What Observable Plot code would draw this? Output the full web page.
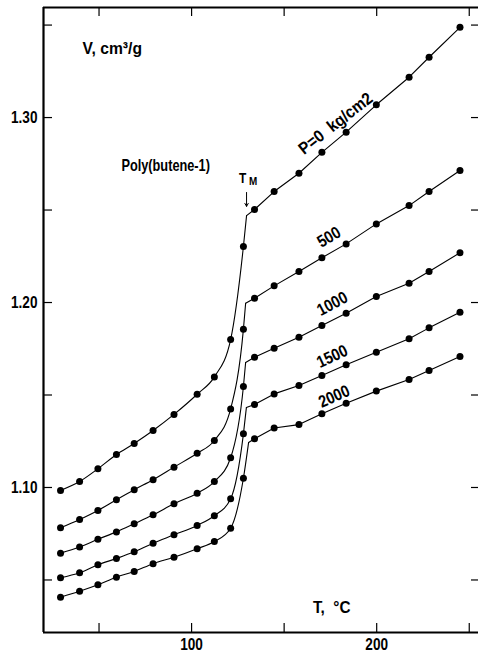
<!DOCTYPE html>
<html><head><meta charset="utf-8">
<script src="https://cdn.jsdelivr.net/npm/d3@7"></script>
<script src="https://cdn.jsdelivr.net/npm/@observablehq/plot@0.6"></script>
<style>
body{margin:0;background:#fff;}
svg{font-family:"Liberation Sans",Arial,sans-serif;font-weight:bold;}
</style></head><body>
<div id="chart"></div>
<script>
// Pressures (kg/cm2)
const pressures = [0, 500, 1000, 1500, 2000];
// Temperatures (°C) of measured points, solid (below Tm) and melt (above Tm)
const tSolid = [29.2, 39.5, 49.4, 59.4, 69, 79.2, 90.5, 103, 112.3, 121.1, 128];
const tLiquid = [134, 144.6, 158, 170.4, 183.5, 199.8, 217.5, 228.3, 245];
// Specific volume (cm3/g)
const vSolid0    = [1.0984, 1.1032, 1.1101, 1.1178, 1.1238, 1.1308, 1.1395, 1.1504, 1.1598, 1.1800, 1.2303];
const vLiquid0   = [1.2503, 1.2600, 1.2699, 1.2812, 1.2921, 1.3069, 1.3218, 1.3326, 1.3488];
const vSolid500  = [1.0782, 1.0827, 1.0876, 1.0934, 1.0988, 1.1042, 1.1110, 1.1185, 1.1254, 1.1425, 1.1856];
const vLiquid500 = [1.2023, 1.2090, 1.2168, 1.2242, 1.2317, 1.2425, 1.2524, 1.2600, 1.2714];
const vSolid1000  = [1.0645, 1.0678, 1.0720, 1.0760, 1.0804, 1.0852, 1.0912, 1.0969, 1.1032, 1.1161, 1.1546];
const vLiquid1000 = [1.1704, 1.1753, 1.1812, 1.1876, 1.1942, 1.2032, 1.2104, 1.2168, 1.2269];
const vSolid1500  = [1.0512, 1.0539, 1.0582, 1.0616, 1.0652, 1.0699, 1.0744, 1.0795, 1.0847, 1.0939, 1.1290];
const vLiquid1500 = [1.1449, 1.1506, 1.1551, 1.1605, 1.1663, 1.1731, 1.1804, 1.1863, 1.1948];
const vSolid2000  = [1.0407, 1.0439, 1.0474, 1.0515, 1.0546, 1.0588, 1.0623, 1.0669, 1.0708, 1.0780, 1.1050];
const vLiquid2000 = [1.1263, 1.1322, 1.1340, 1.1398, 1.1456, 1.1521, 1.1584, 1.1632, 1.1708];
// Melting knee of each curve
const tKnee = [129.7, 129.2, 129.2, 129.6, 130.8];
const vKnee = [1.2470, 1.1996, 1.1676, 1.1432, 1.1243];
// Axis ticks
const xTicks = [50, 100, 150, 200, 250];
const xTickLabels = [100, 200];
const yTicks = [1.05, 1.10, 1.15, 1.20, 1.25, 1.30, 1.35];
const yTickLabels = [1.10, 1.20, 1.30];
// Curve labels
const curveLabels = ["P=0  kg/cm2", "500", "1000", "1500", "2000"];
const curveLabelT = [177.8, 174.2, 176, 176, 177];
const curveLabelV = [1.2968, 1.2353, 1.1993, 1.1708, 1.1492];
const curveLabelAngle = [-38, -31, -28, -25, -24];

const solidV = [vSolid0, vSolid500, vSolid1000, vSolid1500, vSolid2000];
const liquidV = [vLiquid0, vLiquid500, vLiquid1000, vLiquid1500, vLiquid2000];

const points = [], solidLine = [], liquidLine = [];
pressures.forEach((p, i) => {
  tSolid.forEach((t, j) => { points.push({P: p, T: t, V: solidV[i][j]}); solidLine.push({P: p, T: t, V: solidV[i][j]}); });
  solidLine.push({P: p, T: tKnee[i], V: vKnee[i]});
  liquidLine.push({P: p, T: tKnee[i], V: vKnee[i]});
  tLiquid.forEach((t, j) => { points.push({P: p, T: t, V: liquidV[i][j]}); liquidLine.push({P: p, T: t, V: liquidV[i][j]}); });
});
const labels = curveLabels.map((s, i) => ({s, T: curveLabelT[i], V: curveLabelV[i], a: curveLabelAngle[i]}));

const xMin = 20, xMax = 255, yMin = 1.0216, yMax = 1.3595;

const plot = Plot.plot({
  width: 480, height: 655,
  marginTop: 7, marginBottom: 23, marginLeft: 43, marginRight: 2,
  x: {domain: [xMin, xMax]},
  y: {domain: [yMin, yMax]},
  style: {fontSize: "17px", background: "#fff", color: "#000"},
  marks: [
    Plot.line(solidLine, {x: "T", y: "V", z: "P", curve: "monotone-x", stroke: "#000", strokeWidth: 1.1}),
    Plot.line(liquidLine, {x: "T", y: "V", z: "P", stroke: "#000", strokeWidth: 1.1}),
    Plot.dot(points, {x: "T", y: "V", r: 3.5, fill: "#000", stroke: null}),
    // frame
    Plot.ruleX([xMin], {strokeWidth: 2.2}),
    Plot.ruleY([yMin], {strokeWidth: 2.2}),
    Plot.ruleY([yMax], {strokeWidth: 1.8}),
    // inward ticks
    Plot.ruleY(yTicks, {insetRight: 426, strokeWidth: 1.2}),
    Plot.ruleY(yTicks, {insetLeft: 428, strokeWidth: 1.2}),
    Plot.ruleX(xTicks, {insetTop: 616, strokeWidth: 1.2}),
    Plot.ruleX(xTicks, {insetBottom: 616, strokeWidth: 1.2}),
    Plot.axisY(yTickLabels, {tickSize: 0, tickPadding: 6, tickFormat: d => d.toFixed(2), label: null, fontSize: 17}),
    Plot.axisX(xTickLabels, {tickSize: 0, tickPadding: 5, label: null, fontSize: 17}),
    // labels
    Plot.text(labels, {x: "T", y: "V", text: "s", rotate: "a", fontSize: 17}),
    Plot.text(["Poly(butene-1)"], {x: 86, y: 1.274, fontSize: 17}),
    Plot.text(["V, cm³/g"], {x: 41.1, y: 1.3373, textAnchor: "start", fontSize: 17}),
    Plot.text(["T,  °C"], {x: 175.7, y: 1.0351, fontSize: 17}),
    Plot.text(["T"], {x: 127.6, y: 1.2673, fontSize: 14}),
    Plot.text(["M"], {x: 133.2, y: 1.2655, fontSize: 11}),
    Plot.arrow([0], {x1: 129.7, x2: 129.7, y1: 1.2595, y2: 1.2520, headLength: 5, strokeWidth: 1})
  ]
});
document.getElementById("chart").appendChild(plot);

// Condense the lettering like the original typeface
const squeeze = {"Poly(butene-1)": 0.75, "1.10": 0.8, "1.20": 0.8, "1.30": 0.8, "100": 0.8, "200": 0.8,
  "P=0  kg/cm2": 0.9, "500": 0.85, "1000": 0.85, "1500": 0.85, "2000": 0.85, "V, cm³/g": 0.92, "T,  °C": 0.9, "T": 0.85, "M": 0.9};
d3.select(plot).selectAll("text").each(function () {
  const s = this.textContent;
  const k = squeeze[s] ?? 0.85;
  const w = this.getComputedTextLength();
  this.setAttribute("textLength", (w * k).toFixed(2));
  this.setAttribute("lengthAdjust", "spacingAndGlyphs");
});
</script>
</body></html>
